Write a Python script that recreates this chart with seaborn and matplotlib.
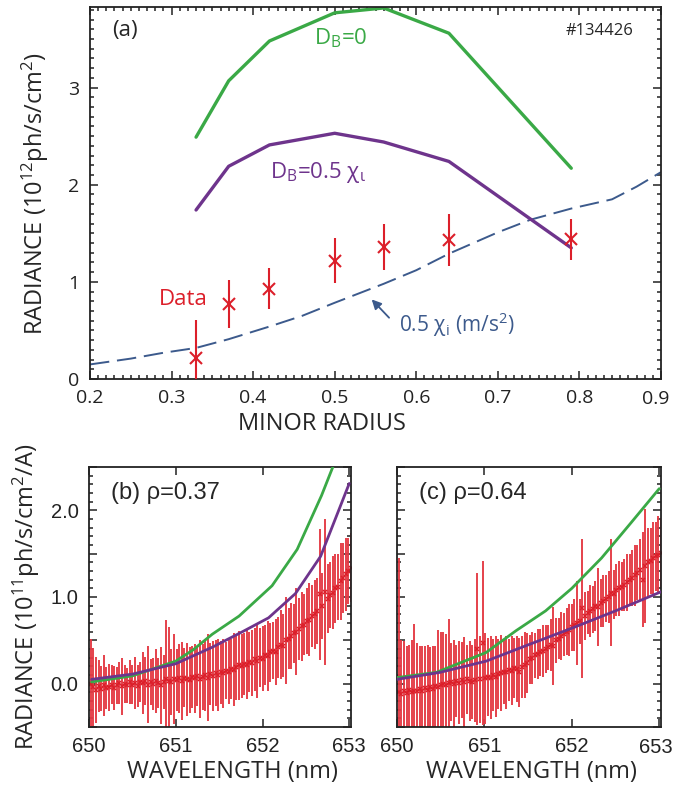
import numpy as np
import matplotlib
matplotlib.use("Agg")
import matplotlib.pyplot as plt
from matplotlib.ticker import MultipleLocator, FuncFormatter, FormatStrFormatter
import seaborn as sns

sns.set_theme(style="ticks")
plt.rcParams["font.family"] = ["Open Sans", "DejaVu Sans"]
plt.rcParams["mathtext.fontset"] = "custom"
plt.rcParams["mathtext.rm"] = "Open Sans"
plt.rcParams["mathtext.it"] = "Open Sans:italic"
plt.rcParams["mathtext.bf"] = "Open Sans:bold"

GREEN = "#3aa946"
PURPLE = "#6e348c"
RED = "#dc1f2a"
RED_BAR = "#e43a44"
BLUE = "#3c5a8c"

# --- panel (a): radiance profile vs minor radius ---
rho = [0.33, 0.37, 0.42, 0.50, 0.56, 0.64, 0.79]
rad_db0 = [2.49, 3.07, 3.48, 3.77, 3.82, 3.56, 2.17]
rad_db05 = [1.74, 2.19, 2.41, 2.53, 2.44, 2.24, 1.35]
rad_data = [0.22, 0.77, 0.93, 1.22, 1.36, 1.43, 1.44]
rad_err = [0.39, 0.25, 0.21, 0.23, 0.24, 0.27, 0.21]

chi_rho = [0.20, 0.25, 0.29, 0.33, 0.37, 0.42, 0.46, 0.50, 0.56, 0.60,
           0.64, 0.70, 0.74, 0.79, 0.84, 0.87, 0.90]
chi_val = [0.15, 0.21, 0.27, 0.32, 0.41, 0.54, 0.65, 0.785, 0.98, 1.12,
           1.29, 1.51, 1.64, 1.755, 1.85, 1.98, 2.13]

# --- panels (b), (c): spectra ---
wl_start, wl_step, n_wl = 650.02, 0.03, 101
wl = np.round(wl_start + wl_step * np.arange(n_wl), 3)

spec_b = [0.00, -0.04, -0.07, -0.03, -0.06, -0.02, -0.05, -0.04, -0.01, -0.05,
          -0.02, 0.01, -0.03, 0.00, -0.02, 0.02, -0.01, 0.01, -0.03, 0.02,
          0.01, 0.03, -0.01, 0.02, 0.00, 0.03, 0.01, -0.02, 0.02, 0.05,
          0.03, 0.02, 0.05, 0.04, 0.06, 0.03, 0.07, 0.05, 0.04, 0.08,
          0.06, 0.09, 0.05, 0.08, 0.10, 0.07, 0.11, 0.09, 0.12, 0.10,
          0.13, 0.12, 0.15, 0.14, 0.17, 0.16, 0.19, 0.21, 0.20, 0.23,
          0.22, 0.25, 0.24, 0.28, 0.26, 0.30, 0.29, 0.33, 0.32, 0.36,
          0.38, 0.37, 0.42, 0.45, 0.44, 0.50, 0.52, 0.55, 0.58, 0.60,
          0.63, 0.66, 0.68, 0.72, 0.74, 0.78, 0.80, 0.84, 1.03, 0.90,
          1.06, 0.98, 1.02, 1.05, 1.10, 1.12, 1.18, 1.22, 1.26, 1.30, 1.34]
err_b = [0.52, 0.45, 0.38, 0.30, 0.26, 0.35, 0.24, 0.27, 0.22, 0.25,
         0.21, 0.24, 0.33, 0.22, 0.20, 0.25, 0.22, 0.30, 0.24, 0.23,
         0.36, 0.28, 0.44, 0.27, 0.30, 0.37, 0.29, 0.44, 0.31, 0.68,
         0.62, 0.38, 0.52, 0.36, 0.40, 0.45, 0.34, 0.42, 0.38, 0.36,
         0.40, 0.35, 0.45, 0.38, 0.42, 0.50, 0.36, 0.40, 0.38, 0.42,
         0.36, 0.40, 0.33, 0.38, 0.35, 0.42, 0.38, 0.40, 0.37, 0.36,
         0.40, 0.35, 0.38, 0.36, 0.42, 0.34, 0.37, 0.35, 0.40, 0.34,
         0.33, 0.38, 0.35, 0.40, 0.36, 0.50, 0.35, 0.38, 0.34, 0.50,
         0.36, 0.40, 0.35, 0.38, 0.42, 0.36, 0.40, 0.38, 0.76, 0.38,
         0.84, 0.40, 0.38, 0.42, 0.40, 0.38, 0.44, 0.40, 0.42, 0.38, 0.40]

spec_c = [-0.10, -0.12, -0.09, -0.11, -0.07, -0.10, -0.08, -0.09, -0.06, -0.08,
          -0.05, -0.07, -0.04, -0.06, -0.03, -0.04, -0.02, 0.00, -0.01, 0.01,
          0.02, 0.00, 0.03, 0.01, 0.04, 0.02, 0.05, 0.03, 0.02, 0.04,
          0.40, 0.05, 0.47, 0.06, 0.08, 0.07, 0.10, 0.08, 0.11, 0.12,
          0.14, 0.13, 0.16, 0.15, 0.18, 0.17, 0.13, 0.19, 0.22, 0.24,
          0.28, 0.30, 0.33, 0.34, 0.36, 0.38, 0.40, 0.42, 0.45, 0.43,
          0.50, 0.52, 0.55, 0.57, 0.60, 0.62, 0.65, 0.68, 0.70, 0.72,
          0.87, 0.78, 0.82, 0.84, 0.86, 0.90, 0.88, 0.93, 0.95, 0.98,
          1.00, 1.05, 1.03, 1.08, 1.10, 1.12, 1.14, 1.17, 1.20, 1.22,
          1.25, 1.28, 1.31, 1.20, 1.36, 1.40, 1.42, 1.45, 1.47, 1.49, 1.51]
err_c = [1.55, 0.62, 0.58, 0.55, 0.52, 0.60, 0.77, 0.56, 0.50, 0.52,
         0.48, 0.52, 0.46, 0.50, 0.47, 0.66, 0.62, 0.60, 0.58, 0.74,
         0.45, 0.50, 0.42, 0.48, 0.44, 0.52, 0.40, 0.46, 0.43, 0.48,
         0.88, 0.50, 0.95, 0.52, 0.45, 0.48, 0.42, 0.47, 0.40, 0.44,
         0.38, 0.42, 0.36, 0.40, 0.35, 0.38, 0.40, 0.36, 0.38, 0.35,
         0.28, 0.30, 0.26, 0.29, 0.27, 0.30, 0.28, 0.26, 0.30, 0.45,
         0.26, 0.24, 0.28, 0.25, 0.27, 0.30, 0.27, 0.30, 0.48, 0.26,
         0.80, 0.28, 0.25, 0.30, 0.27, 0.29, 0.45, 0.28, 0.30, 0.27,
         0.30, 0.62, 0.28, 0.30, 0.32, 0.28, 0.30, 0.33, 0.30, 0.32,
         0.35, 0.32, 0.36, 0.55, 0.66, 0.40, 0.38, 0.42, 0.40, 0.45, 0.40]

mod_b_wl = [650.03, 650.50, 651.00, 651.20, 651.42, 651.73, 652.11, 652.40, 652.68, 652.85]
mod_b_db0 = [0.02, 0.09, 0.26, 0.39, 0.57, 0.78, 1.13, 1.55, 2.17, 2.60]
mod_b_wl2 = [650.03, 650.50, 651.00, 651.42, 651.77, 652.07, 652.38, 652.67, 653.00]
mod_b_db05 = [0.05, 0.11, 0.23, 0.42, 0.60, 0.76, 1.04, 1.47, 2.31]

mod_c_wl = [650.00, 650.45, 651.02, 651.36, 651.70, 652.00, 652.34, 652.68, 653.00]
mod_c_db0 = [0.07, 0.13, 0.36, 0.61, 0.84, 1.10, 1.45, 1.86, 2.25]
mod_c_wl2 = [650.00, 650.49, 651.02, 651.48, 652.00, 652.50, 653.02]
mod_c_db05 = [0.05, 0.13, 0.26, 0.44, 0.64, 0.84, 1.06]


def style_ticks(ax, labelfont, size):
    ax.tick_params(which="both", direction="in", top=True, right=True,
                   colors="#222222", width=1.1)
    ax.tick_params(which="major", length=6, pad=7.5, labelsize=size)
    ax.tick_params(which="minor", length=3)
    for lab in ax.get_xticklabels() + ax.get_yticklabels():
        lab.set_family(labelfont)
    for sp in ax.spines.values():
        sp.set_linewidth(1.3)
        sp.set_color("#222222")


fig = plt.figure(figsize=(6.73, 7.93), dpi=100)
ax_a = fig.add_axes([90 / 673, 1 - 379 / 793, 571 / 673, 372 / 793])
ax_b = fig.add_axes([89 / 673, 1 - 727 / 793, 262 / 673, 260 / 793])
ax_c = fig.add_axes([397 / 673, 1 - 727 / 793, 264 / 673, 260 / 793])

# panel (a)
sns.lineplot(x=chi_rho, y=chi_val, ax=ax_a, color=BLUE, lw=1.4,
             dashes=False, linestyle=(0, (10, 4)))
sns.lineplot(x=rho, y=rad_db0, ax=ax_a, color=GREEN, lw=2.4)
sns.lineplot(x=rho, y=rad_db05, ax=ax_a, color=PURPLE, lw=2.4)
ax_a.errorbar(rho, rad_data, yerr=rad_err, fmt="x", ms=9, mew=1.5,
              color=RED, ecolor=RED, elinewidth=1.5, capsize=0, zorder=4)
ax_a.set_xlim(0.2, 0.9)
ax_a.set_ylim(0, 3.83)
ax_a.xaxis.set_major_locator(MultipleLocator(0.1))
ax_a.xaxis.set_minor_locator(MultipleLocator(0.01))
ax_a.xaxis.set_major_formatter(FuncFormatter(
    lambda v, p: "" if v > 0.85 else f"{v:.1f}"))
ax_a.yaxis.set_major_locator(MultipleLocator(1))
ax_a.yaxis.set_minor_locator(MultipleLocator(0.1))
ax_a.yaxis.set_major_formatter(FormatStrFormatter("%d"))
style_ticks(ax_a, "Open Sans", 14)
# last radius label nudged left so it stays inside the figure
ax_a.text(0.99, -0.03, "0.9", transform=ax_a.transAxes, ha="center",
          va="top", fontsize=14, color="#222222")
ax_a.set_xlabel("MINOR RADIUS", fontsize=17)
ax_a.xaxis.set_label_coords(0.406, -0.088)
ax_a.set_ylabel(r"RADIANCE (10$^{12}$ph/s/cm$^{2}$)", fontsize=17)
ax_a.yaxis.set_label_coords(-0.068, 0.5)

ax_a.text(0.038, 0.938, "(a)", transform=ax_a.transAxes, fontsize=16,
          va="center", ha="left")
ax_a.text(0.951, 0.936, "#134426", transform=ax_a.transAxes, fontsize=12,
          va="center", ha="right")
ax_a.text(0.474, 3.51, r"D$_\mathrm{B}$=0", color=GREEN, fontsize=16,
          va="center", ha="left")
ax_a.text(0.421, 2.13, r"D$_\mathrm{B}$=0.5 χ$_\mathrm{ι}$", color=PURPLE,
          fontsize=16, va="center", ha="left")
ax_a.text(0.285, 0.82, "Data", color=RED, fontsize=16, va="center", ha="left")
ax_a.text(0.579, 0.555, r"0.5 χ$_\mathrm{i}$ (m/s$^\mathrm{2}$)", color=BLUE,
          fontsize=15, va="center", ha="left")
ax_a.annotate("", xy=(0.543, 0.84), xytext=(0.569, 0.61),
              arrowprops=dict(arrowstyle="-|>", color=BLUE, lw=1.3,
                              mutation_scale=14))

# panels (b) and (c)
panels = [
    (ax_b, spec_b, err_b, mod_b_wl, mod_b_db0, mod_b_wl2, mod_b_db05, "(b) ρ=0.37", 0.546),
    (ax_c, spec_c, err_c, mod_c_wl, mod_c_db0, mod_c_wl2, mod_c_db05, "(c) ρ=0.64", 0.51),
]
for ax, spec, err, mw1, m1, mw2, m2, title, xl in panels:
    ax.errorbar(wl, spec, yerr=err, fmt="x", ms=3.5, mew=1.1, color=RED,
                ecolor=RED_BAR, elinewidth=1.35, capsize=0, zorder=2)
    sns.lineplot(x=mw1, y=m1, ax=ax, color=GREEN, lw=2.0, zorder=3)
    sns.lineplot(x=mw2, y=m2, ax=ax, color=PURPLE, lw=2.0, zorder=3)
    ax.set_xlim(650, 653.02)
    ax.set_ylim(-0.5, 2.5)
    ax.xaxis.set_major_locator(MultipleLocator(1))
    ax.yaxis.set_major_locator(MultipleLocator(0.5))
    ax.yaxis.set_minor_locator(MultipleLocator(0.1))
    ax.yaxis.set_major_formatter(FuncFormatter(
        lambda v, p: f"{v:.1f}" if abs(v - round(v)) < 1e-6 else ""))
    ax.xaxis.set_major_formatter(FormatStrFormatter("%d"))
    style_ticks(ax, "Liberation Sans", 14.5)
    ax.set_xlabel("WAVELENGTH (nm)", fontsize=17)
    ax.xaxis.set_label_coords(xl, -0.125)
    ax.text(0.085, 0.9, title, transform=ax.transAxes, fontsize=17,
            va="center", ha="left", family=["Liberation Sans", "DejaVu Sans"])

# the last wavelength label of panel (c) sits a little left so it stays inside
ax_c.xaxis.set_major_formatter(FuncFormatter(
    lambda v, p: "" if v > 652.5 else f"{v:.0f}"))
ax_c.text(0.982, -0.0415, "653", transform=ax_c.transAxes, ha="center",
          va="top", fontsize=14.5, color="#222222",
          family=["Liberation Sans", "DejaVu Sans"])

ax_c.tick_params(labelleft=False)
ax_b.set_ylabel(r"RADIANCE (10$^{11}$ph/s/cm$^{2}$/A)", fontsize=17)
ax_b.yaxis.set_label_coords(-0.18, 0.5)

fig.savefig("out.png", dpi=100)
